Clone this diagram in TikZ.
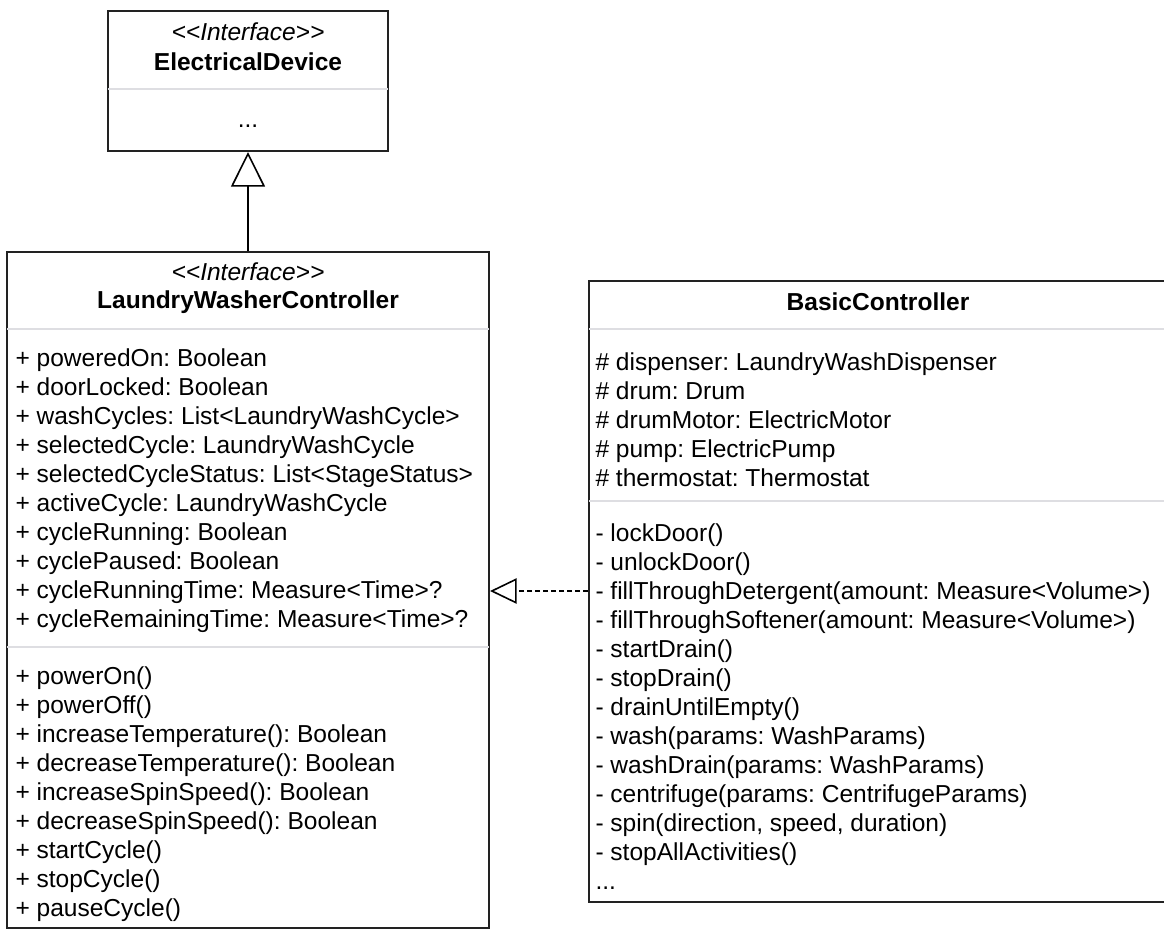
\documentclass[tikz,border=0pt]{standalone}
\usepackage{fontspec}
\setmainfont{Liberation Sans}
\usetikzlibrary{arrows.meta}
\frenchspacing

\tikzset{every picture/.style={line width=0.75pt}}
\tikzset{
  classbox/.style={draw={rgb, 255:red, 34; green, 34; blue, 34}, line width=1.5pt, inner sep=0pt},
  sepline/.style={draw={rgb, 255:red, 222; green, 222; blue, 226}, line width=1.5pt},
  stereotext/.style={inner sep=0pt, font=\itshape\fontsize{18.4}{21.75}\selectfont},
  titletext/.style={inner sep=0pt, font=\bfseries\fontsize{18.4}{21.75}\selectfont},
  membertext/.style={inner sep=0pt, anchor=north west, align=left, font=\fontsize{18.4}{21.75}\selectfont},
  realizes/.style={line width=1.2pt, -{Triangle[open, length=26pt, width=25.5pt, line width=1.2pt]}},
  implements/.style={line width=1.2pt, dash pattern={on 3.75pt off 2.25pt}, -{Triangle[open, length=20pt, width=19pt, line width=1.2pt]}},
}

\begin{document}
\begin{tikzpicture}[x=0.75pt,y=0.75pt,yscale=-1,xscale=1]
        \useasboundingbox (0,0) rectangle (1164,931);
        % class boxes
        \node [classbox, minimum width=210pt, minimum height=105pt] (device) at (248,81) {};
        \node [classbox, minimum width=361.5pt, minimum height=507pt] (washer) at (248,590) {};
        \node [classbox, minimum width=433.5pt, minimum height=465.75pt] (basic) at (878,591.5) {};
        % compartment lines
        \draw [sepline] ([xshift=1pt]device.west |- 0,89) -- ([xshift=-1pt]device.east |- 0,89) ;
        \draw [sepline] ([xshift=1pt]washer.west |- 0,329) -- ([xshift=-1pt]washer.east |- 0,329) ;
        \draw [sepline] ([xshift=1pt]washer.west |- 0,647) -- ([xshift=-1pt]washer.east |- 0,647) ;
        \draw [sepline] ([xshift=1pt]basic.west |- 0,329) -- ([xshift=-1pt]basic.east |- 0,329) ;
        \draw [sepline] ([xshift=1pt]basic.west |- 0,501) -- ([xshift=-1pt]basic.east |- 0,501) ;
        % ElectricalDevice
        \node [stereotext] (deviceStereo) at (248,32) {<\kern0pt<Interface>\kern0pt>};
        \node [titletext] (deviceName) at (248,62) {ElectricalDevice};
        \node [inner sep=0pt, font=\fontsize{18.4}{21.75}\selectfont] (deviceOps) at (248,126) {...};
        % LaundryWasherController
        \node [stereotext] (washerStereo) at (248,272) {<\kern0pt<Interface>\kern0pt>};
        \node [titletext] (washerName) at (248,302) {LaundryWasherController};
        \node [membertext] (washerAttrs) at (15,348) {+ poweredOn: Boolean\\+ doorLocked: Boolean\\+ washCycles: List<LaundryWashCycle>\\+ selectedCycle: LaundryWashCycle\\+ selectedCycleStatus: List<StageStatus>\\+ activeCycle: LaundryWashCycle\\+ cycleRunning: Boolean\\+ cyclePaused: Boolean\\+ cycleRunningTime: Measure<Time>?\\+ cycleRemainingTime: Measure<Time>?};
        \node [membertext] (washerOps) at (15,666) {+ powerOn()\\+ powerOff()\\+ increaseTemperature(): Boolean\\+ decreaseTemperature(): Boolean\\+ increaseSpinSpeed(): Boolean\\+ decreaseSpinSpeed(): Boolean\\+ startCycle()\\+ stopCycle()\\+ pauseCycle()};
        % BasicController
        \node [titletext] (basicName) at (878,302) {BasicController};
        \node [membertext] (basicAttrs) at (595,352) {\# dispenser: LaundryWashDispenser\\\# drum: Drum\\\# drumMotor: ElectricMotor\\\# pump: ElectricPump\\\# thermostat: Thermostat};
        \node [membertext] (basicOps) at (595,523) {- lockDoor()\\- unlockDoor()\\- fillThroughDetergent(amount: Measure<Volume>)\\- fillThroughSoftener(amount: Measure<Volume>)\\- startDrain()\\- stopDrain()\\- drainUntilEmpty()\\- wash(params: WashParams)\\- washDrain(params: WashParams)\\- centrifuge(params: CentrifugeParams)\\- spin(direction, speed, duration)\\- stopAllActivities()\\...};
        % relations
        \draw [realizes] (washer.north) -- (device.south) ;
        \draw [implements] (basic.west |- 0,591) -- (washer.east |- 0,591) ;

    \end{tikzpicture}
\end{document}
